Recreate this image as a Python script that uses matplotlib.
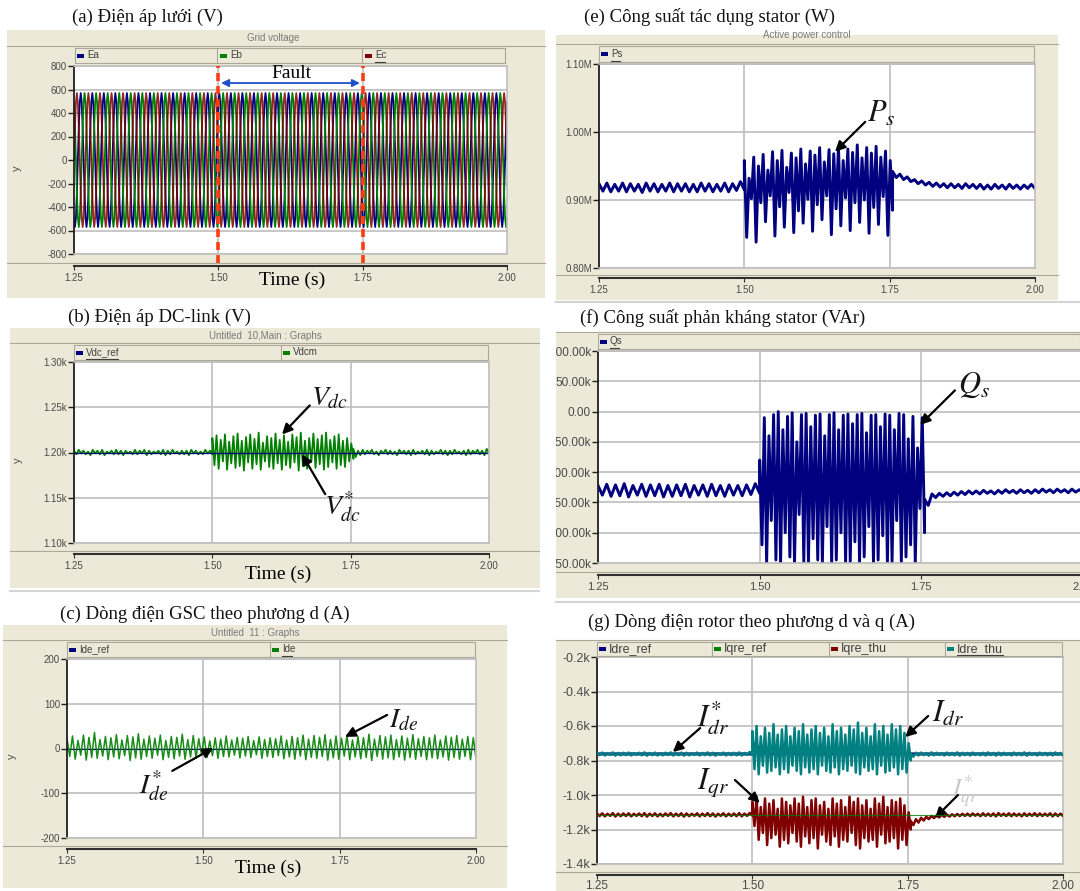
import numpy as np
import matplotlib
matplotlib.use('Agg')
import matplotlib.pyplot as plt
from matplotlib.patches import Rectangle
from matplotlib.lines import Line2D

plt.rcParams['mathtext.fontset'] = 'stix'

# ---------------- data ----------------
t_start, t_fault, t_clear, t_end = 1.25, 1.50, 1.755, 2.00

# grid voltage, one 20 ms cycle sampled 12 times (V)
v_cycle = [0, 283, 490, 570, 490, 283, 0, -283, -490, -570, -490, -283]
v_step = 0.02 / 12

# DC-link voltage (V): ripple highs / lows per segment
vdc_ref = [1200, 1200]
vdc_pre_hi = [1202, 1203, 1202, 1201, 1203, 1202, 1203, 1201, 1202, 1203,
              1202, 1202, 1201, 1203, 1202, 1203, 1202, 1201, 1202, 1203,
              1202, 1203, 1201, 1202, 1202, 1203, 1202, 1201, 1203, 1202]
vdc_pre_lo = [1198, 1199, 1198, 1197, 1199, 1198, 1197, 1199, 1198, 1198,
              1197, 1199, 1198, 1198, 1199, 1197, 1198, 1199, 1198, 1197,
              1198, 1199, 1198, 1198, 1197, 1199, 1198, 1198, 1199, 1198]
vdc_fault_hi = [1216, 1219, 1214, 1220, 1212, 1218, 1221, 1213, 1217, 1220,
                1215, 1222, 1211, 1218, 1216, 1221, 1214, 1219, 1212, 1220,
                1217, 1222, 1213, 1216, 1221, 1215, 1219, 1222, 1214, 1218,
                1220, 1213, 1216, 1210]
vdc_fault_lo = [1186, 1182, 1190, 1181, 1188, 1183, 1185, 1180, 1189, 1182,
                1187, 1181, 1190, 1184, 1182, 1188, 1181, 1186, 1183, 1189,
                1180, 1185, 1182, 1190, 1183, 1187, 1181, 1184, 1189, 1182,
                1186, 1184, 1190, 1193]
vdc_post_hi = [1204, 1202, 1203, 1202, 1203, 1201, 1202, 1203, 1202, 1201,
               1203, 1202, 1202, 1203, 1201, 1202, 1203, 1202, 1201, 1203,
               1202, 1202, 1203, 1201, 1202, 1203, 1202, 1203, 1202, 1204]
vdc_post_lo = [1195, 1197, 1198, 1199, 1198, 1197, 1199, 1198, 1198, 1197,
               1199, 1198, 1197, 1198, 1199, 1198, 1197, 1198, 1199, 1198,
               1197, 1198, 1199, 1198, 1197, 1198, 1199, 1198, 1197, 1199]

# GSC d-axis current (A)
ide_ref = [0, 0]
ide_hi = [22, 28, 18, 30, 25, 36, 20, 27, 24, 31, 19, 29, 26, 33, 21, 28, 23, 30, 18, 27,
          25, 32, 20, 29, 22, 26, 17, 24, 21, 28, 19, 25, 23, 27, 18, 26, 20, 24, 22, 28,
          19, 27, 24, 30, 21, 29, 25, 31, 20, 28, 23, 30, 19, 27, 24, 32, 21, 29, 26, 30,
          20, 28, 23, 31, 22, 27, 24, 30, 19, 28, 25, 29, 21, 27, 24]
ide_lo = [-18, -24, -15, -26, -20, -22, -17, -25, -19, -23, -16, -27, -21, -24, -18, -22, -15, -25, -20, -23,
          -17, -24, -19, -21, -14, -20, -16, -22, -18, -19, -15, -21, -17, -20, -14, -22, -18, -20, -16, -23,
          -19, -24, -17, -25, -20, -22, -18, -26, -21, -24, -17, -25, -19, -23, -20, -27, -18, -24, -21, -25,
          -19, -26, -20, -24, -18, -25, -21, -23, -19, -26, -20, -24, -18, -25, -22]

# stator active power (MW)
ps_pre_hi = [0.924, 0.925, 0.923, 0.925, 0.924, 0.923, 0.925, 0.924, 0.923, 0.925,
             0.924, 0.924, 0.923, 0.925, 0.924, 0.923, 0.925, 0.924, 0.927]
ps_pre_lo = [0.913, 0.912, 0.913, 0.912, 0.913, 0.911, 0.913, 0.912, 0.913, 0.912,
             0.913, 0.912, 0.912, 0.913, 0.912, 0.913, 0.912, 0.914, 0.915]
ps_fault_hi = [0.958, 0.932, 0.963, 0.950, 0.967, 0.944, 0.971, 0.958, 0.973, 0.948,
               0.969, 0.962, 0.975, 0.953, 0.972, 0.966, 0.977, 0.956, 0.974, 0.968,
               0.979, 0.958, 0.975, 0.970, 0.981, 0.962, 0.977, 0.969, 0.979, 0.963,
               0.972, 0.958]
ps_fault_lo = [0.845, 0.902, 0.838, 0.896, 0.868, 0.906, 0.847, 0.890, 0.860, 0.911,
               0.852, 0.884, 0.866, 0.901, 0.854, 0.893, 0.871, 0.906, 0.849, 0.887,
               0.862, 0.903, 0.855, 0.896, 0.867, 0.900, 0.851, 0.889, 0.864, 0.905,
               0.848, 0.885]
ps_post_hi = [0.942, 0.938, 0.934, 0.930, 0.928, 0.926, 0.925, 0.924, 0.924, 0.923,
              0.924, 0.923, 0.923, 0.922, 0.923, 0.922, 0.923, 0.922, 0.922, 0.923]
ps_post_lo = [0.933, 0.930, 0.927, 0.924, 0.922, 0.920, 0.919, 0.918, 0.918, 0.917,
              0.918, 0.917, 0.916, 0.916, 0.917, 0.916, 0.917, 0.916, 0.917, 0.917]

# stator reactive power (kVAr)
qs_pre_hi = [-122, -120, -121, -119, -122, -120, -121, -120, -122, -121,
             -120, -122, -121, -120, -122, -121, -122, -121, -119]
qs_pre_lo = [-138, -140, -139, -141, -138, -140, -139, -141, -140, -139,
             -141, -138, -140, -139, -140, -138, -139, -137, -135]
qs_fault_hi = [-80, -10, -40, -5, 0, -30, -8, -2, -50, -5, -3, -25, -6, -4, -40, -5, -2, -30,
               -6, -4, -20, -5, -3, -35, -6, -5, -25, -4, -6, -30, -3, -5, -45, -8, -60, -10]
qs_fault_lo = [-220, -250, -180, -245, -250, -200, -240, -250, -170, -248, -250, -210,
               -245, -250, -190, -250, -245, -200, -250, -248, -215, -250, -240, -190,
               -250, -245, -205, -250, -248, -180, -250, -240, -220, -250, -160, -200]
qs_post_hi = [-145, -136, -135, -134, -133, -132, -131, -131, -130, -131, -130,
              -129, -130, -129, -130, -129, -128, -129, -128, -129, -128, -129]
qs_post_lo = [-155, -142, -140, -139, -138, -137, -136, -136, -135, -136, -135,
              -134, -135, -134, -135, -134, -133, -134, -133, -134, -133, -134]

# rotor d/q currents (kA)
idr_pre_hi = [-0.756, -0.754, -0.757, -0.753, -0.756, -0.755, -0.754, -0.757, -0.755, -0.753,
              -0.756, -0.754, -0.757, -0.755, -0.753, -0.756, -0.754, -0.755, -0.757, -0.754,
              -0.756, -0.753, -0.755, -0.757, -0.754, -0.756, -0.755, -0.753, -0.756, -0.750]
idr_pre_lo = [-0.769, -0.771, -0.768, -0.772, -0.770, -0.769, -0.771, -0.768, -0.770, -0.772,
              -0.769, -0.771, -0.770, -0.768, -0.771, -0.769, -0.772, -0.770, -0.768, -0.771,
              -0.769, -0.770, -0.772, -0.768, -0.771, -0.769, -0.770, -0.771, -0.768, -0.765]
idr_fault_hi = [-0.63, -0.60, -0.66, -0.61, -0.64, -0.59, -0.65, -0.62, -0.60, -0.66,
                -0.61, -0.63, -0.59, -0.65, -0.62, -0.60, -0.64, -0.61, -0.66, -0.59,
                -0.63, -0.61, -0.65, -0.60, -0.62, -0.58, -0.64, -0.61, -0.66, -0.59,
                -0.63, -0.60, -0.65, -0.59, -0.62, -0.60, -0.64, -0.70]
idr_fault_lo = [-0.85, -0.88, -0.83, -0.87, -0.86, -0.84, -0.88, -0.85, -0.87, -0.83,
                -0.86, -0.88, -0.84, -0.87, -0.85, -0.88, -0.83, -0.86, -0.87, -0.84,
                -0.88, -0.85, -0.86, -0.83, -0.87, -0.88, -0.84, -0.86, -0.85, -0.88,
                -0.83, -0.87, -0.86, -0.84, -0.88, -0.85, -0.87, -0.80]
idr_post_hi = [-0.760, -0.755, -0.754, -0.756, -0.753, -0.755, -0.757, -0.754, -0.756, -0.753,
               -0.755, -0.756, -0.754, -0.757, -0.755, -0.753, -0.756, -0.754, -0.755, -0.757,
               -0.754, -0.756, -0.753, -0.755, -0.757, -0.754, -0.756, -0.755, -0.753, -0.756]
idr_post_lo = [-0.778, -0.771, -0.769, -0.772, -0.770, -0.768, -0.771, -0.769, -0.770, -0.772,
               -0.769, -0.771, -0.768, -0.770, -0.771, -0.769, -0.772, -0.770, -0.768, -0.771,
               -0.769, -0.770, -0.772, -0.768, -0.771, -0.769, -0.770, -0.771, -0.768, -0.770]
idr_ref_t = [1.25, 1.50, 1.505, 1.515, 1.755, 2.00]
idr_ref = [-0.762, -0.762, -0.700, -0.760, -0.762, -0.762]

iqr_pre_hi = [-1.108, -1.106, -1.109, -1.105, -1.108, -1.107, -1.106, -1.109, -1.107, -1.105,
              -1.108, -1.106, -1.109, -1.107, -1.105, -1.108, -1.106, -1.107, -1.109, -1.106,
              -1.108, -1.105, -1.107, -1.109, -1.106, -1.108, -1.107, -1.105, -1.108, -1.104]
iqr_pre_lo = [-1.122, -1.124, -1.121, -1.125, -1.123, -1.122, -1.124, -1.121, -1.123, -1.125,
              -1.122, -1.124, -1.123, -1.121, -1.124, -1.122, -1.125, -1.123, -1.121, -1.124,
              -1.122, -1.123, -1.125, -1.121, -1.124, -1.122, -1.123, -1.124, -1.121, -1.118]
iqr_fault_hi = [-1.04, -1.01, -1.07, -1.02, -1.05, -1.03, -1.08, -1.02, -1.04, -1.06,
                -1.02, -1.05, -1.01, -1.07, -1.03, -1.02, -1.06, -1.04, -1.08, -1.02,
                -1.05, -1.03, -1.07, -1.01, -1.04, -1.02, -1.06, -1.03, -1.08, -1.02,
                -1.05, -1.01, -1.07, -1.03, -1.04, -1.02, -1.06, -1.10]
iqr_fault_lo = [-1.18, -1.26, -1.22, -1.29, -1.25, -1.23, -1.30, -1.26, -1.28, -1.22,
                -1.27, -1.30, -1.24, -1.28, -1.25, -1.31, -1.23, -1.27, -1.29, -1.24,
                -1.30, -1.26, -1.27, -1.22, -1.29, -1.31, -1.25, -1.27, -1.26, -1.30,
                -1.23, -1.28, -1.27, -1.25, -1.31, -1.26, -1.29, -1.20]
iqr_post_hi = [-1.150, -1.140, -1.132, -1.126, -1.121, -1.118, -1.115, -1.113, -1.112, -1.110,
               -1.109, -1.108, -1.107, -1.109, -1.106, -1.108, -1.107, -1.105, -1.108, -1.106,
               -1.107, -1.109, -1.106, -1.108, -1.105, -1.107, -1.108, -1.106, -1.107, -1.108]
iqr_post_lo = [-1.175, -1.160, -1.148, -1.140, -1.134, -1.130, -1.127, -1.125, -1.123, -1.122,
               -1.121, -1.122, -1.120, -1.123, -1.121, -1.122, -1.124, -1.121, -1.122, -1.123,
               -1.121, -1.124, -1.122, -1.121, -1.123, -1.122, -1.121, -1.124, -1.122, -1.121]
iqr_ref = [-1.115, -1.115]

time_ticks = [1.25, 1.50, 1.75, 2.00]

# ---------------- helpers ----------------
W, H = 1080, 891
BEIGE = '#ECE9D8'
EDGE = '#ACA899'
GRID = '#BEBEBE'
NAVY, GREEN, DRED, TEAL = '#000080', '#008000', '#800000', '#008080'
SERIF = ['Liberation Serif', 'DejaVu Serif']
SANS = ['Liberation Sans', 'DejaVu Sans']

fig = plt.figure(figsize=(W / 100, H / 100), dpi=100)


def rect(x0, y0, x1, y1, **kw):
    fig.add_artist(Rectangle((x0 / W, 1 - y1 / H), (x1 - x0) / W, (y1 - y0) / H,
                             transform=fig.transFigure, **kw))


def hline(x0, x1, y, **kw):
    fig.add_artist(Line2D([x0 / W, x1 / W], [1 - y / H] * 2, transform=fig.transFigure, **kw))


def vline(x, y0, y1, **kw):
    fig.add_artist(Line2D([x / W] * 2, [1 - y0 / H, 1 - y1 / H], transform=fig.transFigure, **kw))


def ftext(x, y, s, **kw):
    return fig.text(x / W, 1 - y / H, s, **kw)


def zigzag(t0, t1, hi, lo):
    n = min(len(hi), len(lo))
    v = np.empty(2 * n)
    v[0::2] = hi[:n]
    v[1::2] = lo[:n]
    return np.linspace(t0, t1, 2 * n), v


def series(*segs):
    ts, vs = [], []
    for s in segs:
        t, v = zigzag(*s)
        ts.append(t)
        vs.append(v)
    return np.concatenate(ts), np.concatenate(vs)


def panel(bg, strip, divs, items, box, t_line, ylim, yticks, ylabels,
          ysize=7, tsize=7, lsize=7, tpad=2, header=None, ylab=None):
    x0, y0, x1, y1 = bg
    rect(x0, y0, x1, y1, fc=BEIGE, ec='none', zorder=-2)
    sx0, sy0, sx1, sy1 = strip
    hline(x0, x1, sy0 - 2, color=EDGE, lw=0.8)
    rect(sx0, sy0, sx1, sy1, fc=BEIGE, ec=EDGE, lw=0.8, zorder=1)
    for d in divs:
        vline(d, sy0, sy1, color=EDGE, lw=0.8)
    ym = (sy0 + sy1) / 2
    for x, label, color, under in items:
        rect(x + 2, ym - 2, x + 9, ym + 2, fc=color, ec='none', zorder=2)
        ftext(x + 12, ym, label, size=lsize, color='#404040', ha='left', va='center', family=SANS)
        if under:
            hline(x + 12, x + 12 + under, sy1 - 1.5, color='#404040', lw=0.8)
    if header:
        ftext(header[0], header[1], header[2], size=7, color='#7A7A7A',
              ha='center', va='center', family=SANS)
    if ylab:
        ftext(ylab[0], ylab[1], 'y', size=8, color='#505050', rotation=90,
              ha='center', va='center', family=SANS)

    bx0, by0, bx1, by1 = box
    ax = fig.add_axes([bx0 / W, 1 - by1 / H, (bx1 - bx0) / W, (by1 - by0) / H])
    ax.set_facecolor('white')
    ax.set_xlim(t_start, t_end)
    ax.set_ylim(*ylim)
    for s in ('top', 'right', 'bottom'):
        ax.spines[s].set_color(GRID)
        ax.spines[s].set_linewidth(1.2)
    ax.spines['left'].set_color('#202020')
    ax.spines['left'].set_linewidth(1.3)
    ax.set_xticks([1.50, 1.75])
    ax.tick_params(axis='x', length=0, labelbottom=False)
    ax.set_yticks(yticks)
    ax.set_yticklabels(ylabels, family=SANS)
    ax.tick_params(axis='y', direction='out', length=4, width=1, color='#202020',
                   labelsize=ysize, labelcolor='#4A4A4A', pad=1)
    ax.grid(True, color=GRID, lw=1.2)
    ax.set_axisbelow(True)

    hline(x0, x1, t_line - 3, color=EDGE, lw=0.8)
    tax = fig.add_axes([bx0 / W, 1 - t_line / H, (bx1 - bx0) / W, 0.0001])
    tax.patch.set_visible(False)
    tax.set_xlim(t_start, t_end)
    tax.set_yticks([])
    for s in ('top', 'left', 'right'):
        tax.spines[s].set_visible(False)
    tax.spines['bottom'].set_color('#303030')
    tax.spines['bottom'].set_linewidth(1.5)
    tax.set_xticks(time_ticks)
    tax.set_xticklabels(['%.2f' % t for t in time_ticks], family=SANS)
    tax.tick_params(axis='x', direction='out', length=3, color='#303030',
                    labelsize=tsize, labelcolor='#4A4A4A', pad=tpad)
    return ax


def arrow(ax, tail, head, color='black', lw=1.6):
    ax.annotate('', xy=head, xytext=tail, annotation_clip=False,
                arrowprops=dict(arrowstyle='-|>', color=color, lw=lw, mutation_scale=15,
                                shrinkA=0, shrinkB=0))


def label(ax, xy, s, size=20, color='#151515'):
    ax.text(xy[0], xy[1], s, size=size, color=color, ha='center', va='center', clip_on=False)


# ---------------- (a) grid voltage ----------------
n_v = int(round((t_end - t_start) / v_step)) + 1
v_tiled = np.tile(v_cycle, n_v // len(v_cycle) + 2)
t_v = t_start + np.arange(n_v) * v_step
ea = v_tiled[8:8 + n_v]
eb = v_tiled[4:4 + n_v]
ec = v_tiled[0:n_v]

ax_a = panel((7, 30, 545, 298), (75, 48, 505, 63), [217, 362],
             [(75, 'Ea', NAVY, 0), (218, 'Eb', GREEN, 0), (363, 'Ec', DRED, 10)],
             (74, 66, 507, 254), 266, (-800, 800), list(range(-800, 801, 200)),
             [str(v) for v in range(-800, 801, 200)], header=(273, 38, 'Grid voltage'), ylab=(17, 168))
ax_a.plot(t_v, ea, color=NAVY, lw=1.3)
ax_a.plot(t_v, eb, color=GREEN, lw=1.3)
ax_a.plot(t_v, ec, color=DRED, lw=1.3, alpha=0.85)
for tf in (t_fault, 1.75):
    ax_a.axvline(tf, ymin=-0.05, ymax=1.0, color='#FF3C14', lw=2.6, ls=(0, (2.2, 1.4)),
                 clip_on=False, zorder=5)
ax_a.annotate('', xy=(1.75, 655), xytext=(t_fault, 655),
              arrowprops=dict(arrowstyle='<|-|>', color='#1E50C8', lw=1.3, mutation_scale=11,
                              shrinkA=2, shrinkB=2), zorder=6)
ax_a.text(1.626, 738, 'Fault', family=SERIF, size=14, ha='center', va='center')
ftext(292, 280, 'Time (s)', family=SERIF, size=14, ha='center', va='center')

# ---------------- (b) DC-link voltage ----------------
ax_b = panel((10, 328, 545, 588), (74, 345, 488, 360), [281],
             [(74, 'Vdc_ref', NAVY, 32), (281, 'Vdcm', GREEN, 0)],
             (74, 362, 489, 543), 554, (1100, 1300), [1100, 1150, 1200, 1250, 1300],
             ['1.10k', '1.15k', '1.20k', '1.25k', '1.30k'],
             header=(265, 336, 'Untitled  10,Main : Graphs'), ylab=(18, 460))
t_b, v_b = series((t_start, t_fault, vdc_pre_hi, vdc_pre_lo),
                  (t_fault, t_clear, vdc_fault_hi, vdc_fault_lo),
                  (t_clear, t_end, vdc_post_hi, vdc_post_lo))
ax_b.plot(t_b, v_b, color=GREEN, lw=1.3)
ax_b.plot([t_start, t_end], vdc_ref, color=NAVY, lw=0.9)
label(ax_b, (1.712, 1261), r'$V_{dc}$')
arrow(ax_b, (1.676, 1252), (1.626, 1220))
label(ax_b, (1.735, 1140), r'$V_{dc}^{*}$')
arrow(ax_b, (1.704, 1154), (1.662, 1198))
ftext(278, 574, 'Time (s)', family=SERIF, size=14, ha='center', va='center')

# ---------------- (c) GSC d-axis current ----------------
ax_c = panel((3, 625, 507, 888), (67, 642, 475, 657), [270],
             [(67, 'Ide_ref', NAVY, 0), (270, 'Ide', GREEN, 10)],
             (67, 659, 476, 838), 849, (-200, 200), [-200, -100, 0, 100, 200],
             ['-200', '-100', '0', '100', '200'],
             header=(255, 633, 'Untitled  11 : Graphs'), ylab=(12, 756))
t_c, v_c = zigzag(t_start, t_end, ide_hi, ide_lo)
ax_c.plot([t_start, t_end], ide_ref, color=NAVY, lw=0.8)
ax_c.plot(t_c, v_c, color=GREEN, lw=1.1, alpha=0.9)
label(ax_c, (1.868, 66), r'$I_{de}$')
arrow(ax_c, (1.837, 75), (1.760, 26))
label(ax_c, (1.408, -84), r'$I_{de}^{*}$')
arrow(ax_c, (1.443, -50), (1.518, 1))
ftext(268, 868, 'Time (s)', family=SERIF, size=14, ha='center', va='center')

# ---------------- (e) stator active power ----------------
ax_e = panel((556, 34, 1058, 300), (599, 46, 1034, 62), [],
             [(599, 'Ps', NAVY, 9)],
             (599, 64, 1035, 268), 278, (0.80, 1.10), [0.80, 0.90, 1.00, 1.10],
             ['0.80M', '0.90M', '1.00M', '1.10M'], header=(807, 34.5, 'Active power control'))
rect(556, 24, 1058, 34.5, fc='white', ec='none', zorder=3)
t_e, v_e = series((t_start, t_fault, ps_pre_hi, ps_pre_lo),
                  (t_fault, t_clear, ps_fault_hi, ps_fault_lo),
                  (t_clear, t_end, ps_post_hi, ps_post_lo))
ax_e.plot(t_e, v_e, color=NAVY, lw=2.1)
label(ax_e, (1.735, 1.027), r'$P_s$', size=22)
arrow(ax_e, (1.708, 1.015), (1.656, 0.971))

# ---------------- (f) stator reactive power ----------------
qs_ticks = list(range(-250, 101, 50))
ax_f = panel((556, 333, 1080, 598), (598, 334, 1080, 349), [],
             [(598, 'Qs', NAVY, 9)],
             (598, 351, 1083, 563), 575, (-250, 100), qs_ticks,
             ['0.00' if v == 0 else '%.2fk' % v for v in qs_ticks], ysize=8.5, tsize=8)
rect(540, 328, 556, 600, fc='white', ec='none', zorder=10)
t_f, v_f = series((t_start, t_fault, qs_pre_hi, qs_pre_lo),
                  (t_fault, t_clear, qs_fault_hi, qs_fault_lo),
                  (t_clear, t_end, qs_post_hi, qs_post_lo))
ax_f.plot(t_f, v_f, color=NAVY, lw=2.1)
label(ax_f, (1.832, 44), r'$Q_s$', size=22)
arrow(ax_f, (1.802, 35), (1.748, -22))

# ---------------- (g) rotor d/q currents ----------------
idq_ticks = [-1.4, -1.2, -1.0, -0.8, -0.6, -0.4, -0.2]
ax_g = panel((556, 640, 1080, 891), (597, 642, 1062, 656), [712, 829, 945],
             [(597, 'Idre_ref', NAVY, 0), (712, 'Iqre_ref', GREEN, 0),
              (829, 'Iqre_thu', DRED, 0), (945, 'Idre_thu', TEAL, 46)],
             (597, 657, 1063, 864), 875, (-1.4, -0.2), idq_ticks,
             ['%.1fk' % v for v in idq_ticks], ysize=9, tsize=8.5, lsize=9, tpad=0.5)
t_d, v_d = series((t_start, t_fault, idr_pre_hi, idr_pre_lo),
                  (t_fault, t_clear, idr_fault_hi, idr_fault_lo),
                  (t_clear, t_end, idr_post_hi, idr_post_lo))
t_q, v_q = series((t_start, t_fault, iqr_pre_hi, iqr_pre_lo),
                  (t_fault, t_clear, iqr_fault_hi, iqr_fault_lo),
                  (t_clear, t_end, iqr_post_hi, iqr_post_lo))
ax_g.plot(idr_ref_t, idr_ref, color=NAVY, lw=2.2, zorder=2)
ax_g.plot(t_q, v_q, color=DRED, lw=1.8, zorder=3)
ax_g.plot([t_start, t_end], iqr_ref, color=GREEN, lw=0.8, zorder=4, alpha=0.8)
ax_g.plot(t_d, v_d, color=TEAL, lw=1.8, zorder=3)
label(ax_g, (1.437, -0.556), r'$I_{dr}^{*}$', size=22)
arrow(ax_g, (1.416, -0.612), (1.372, -0.751))
label(ax_g, (1.815, -0.527), r'$I_{dr}$', size=22)
arrow(ax_g, (1.783, -0.542), (1.746, -0.664))
label(ax_g, (1.437, -0.925), r'$I_{qr}$', size=22)
arrow(ax_g, (1.472, -0.913), (1.512, -1.046))
label(ax_g, (1.842, -0.975), r'$I_{qr}^{*}$', size=18, color='#C8C8C8')
arrow(ax_g, (1.831, -1.000), (1.794, -1.133))

# thin separators between stacked panels
hline(10, 545, 591, color='#D4D4D4', lw=1.5)
hline(556, 1080, 302, color='#D4D4D4', lw=1.5)
hline(556, 1080, 602, color='#D4D4D4', lw=1.5)

# ---------------- titles ----------------
ttl = dict(family=SERIF, size=13.5, ha='left', va='center', color='#111111')
ftext(72, 17, '(a) Điện áp lưới (V)', **ttl)
ftext(68, 317, '(b) Điện áp DC-link (V)', **ttl)
ftext(60, 614, '(c) Dòng điện GSC theo phương d (A)', **ttl)
ftext(584, 17, '(e) Công suất tác dụng stator (W)', **ttl)
ftext(580, 318, '(f) Công suất phản kháng stator (VAr)', **ttl)
ftext(588, 622, '(g) Dòng điện rotor theo phương d và q (A)', **ttl)

fig.savefig('out.png', dpi=100)
